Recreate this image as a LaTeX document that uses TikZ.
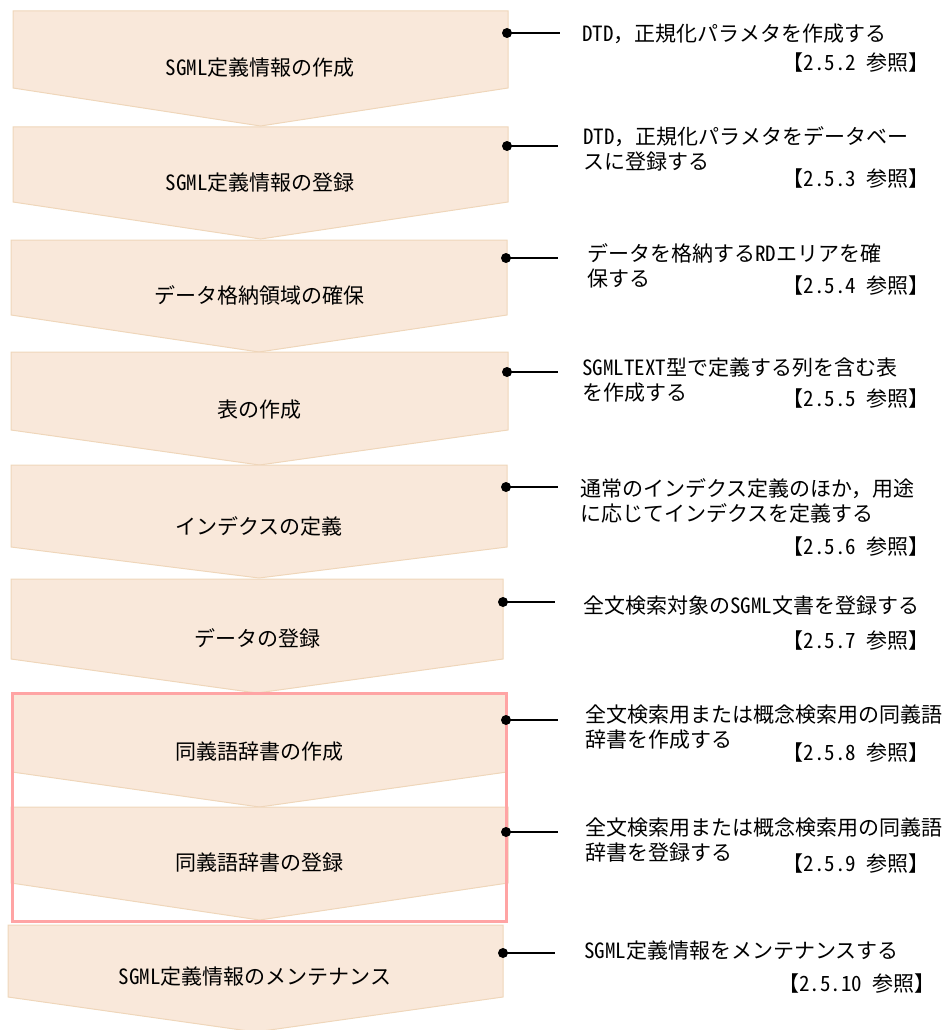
\documentclass[tikz,border=0pt]{standalone}
\usepackage{fontspec}
\setmainfont{Noto Sans CJK JP}
\newfontfamily\hwfont{Noto Sans CJK JP}[RawFeature=+hwid]
\newcommand\halfw[1]{{\hwfont #1}}
\definecolor{chfill}{HTML}{F9E8DA}
\definecolor{chline}{HTML}{EFD6BA}
\definecolor{hilite}{HTML}{FFA4A4}
\begin{document}
\begin{tikzpicture}[x=1pt,y=-1pt,
  every node/.style={font=\fontsize{21}{24.5}\selectfont, inner sep=0pt, text=black},
  chev/.style={fill=chfill, draw=chline, line width=1pt, line join=miter},
  lbl/.style={anchor=center},
  desc/.style={anchor=base west, align=left},
  refn/.style={anchor=base east},
  conn/.style={draw=black, line width=1.7pt},
  dotm/.style={fill=black},
  grp/.style={draw=hilite, line width=3pt}]
\useasboundingbox (0,0) rectangle (947,1030);

% chevrons
\draw[chev] (13,11) -- (508,11) -- (508,88) -- (260.5,126) -- (13,88) -- cycle;
\draw[chev] (13,127) -- (508,127) -- (508,202) -- (260.5,239) -- (13,202) -- cycle;
\draw[chev] (11,240) -- (507,240) -- (507,315) -- (259,352) -- (11,315) -- cycle;
\draw[chev] (11,352) -- (508,352) -- (508,430) -- (259.5,465) -- (11,430) -- cycle;
\draw[chev] (11,465) -- (507,465) -- (507,547) -- (259,578) -- (11,547) -- cycle;
\draw[chev] (11,579) -- (503,579) -- (503,659) -- (257,693) -- (11,659) -- cycle;
\draw[chev] (12,693) -- (507,693) -- (507,772) -- (259.5,807) -- (12,772) -- cycle;
\draw[chev] (11,807) -- (508,807) -- (508,883) -- (259.5,920) -- (11,883) -- cycle;
\draw[chev] (8,925) -- (503,925) -- (503,997) -- (255.5,1032) -- (8,997) -- cycle;

% highlight group
\draw[grp] (12.5,693.5) rectangle (506,921.5);

% labels in chevrons
\node[lbl] (s1) at (260,68) {\halfw{SGML}定義情報の作成};
\node[lbl] (s2) at (260,183) {\halfw{SGML}定義情報の登録};
\node[lbl] (s3) at (259,295) {データ格納領域の確保};
\node[lbl] (s4) at (259,410) {表の作成};
\node[lbl] (s5) at (259,526) {インデクスの定義};
\node[lbl] (s6) at (257,638) {データの登録};
\node[lbl] (s7) at (259,752) {同義語辞書の作成};
\node[lbl] (s8) at (259,863) {同義語辞書の登録};
\node[lbl] (s9) at (255,977) {\halfw{SGML}定義情報のメンテナンス};

% connector points
\coordinate (p1) at (507,33);  \coordinate (e1) at (560,33);
\coordinate (p2) at (507,146); \coordinate (e2) at (558,146);
\coordinate (p3) at (506,258); \coordinate (e3) at (558,258);
\coordinate (p4) at (507,372); \coordinate (e4) at (558,372);
\coordinate (p5) at (506,487); \coordinate (e5) at (558,487);
\coordinate (p6) at (503,602); \coordinate (e6) at (555,602);
\coordinate (p7) at (506,720); \coordinate (e7) at (558,720);
\coordinate (p8) at (506,832); \coordinate (e8) at (558,832);
\coordinate (p9) at (503,953); \coordinate (e9) at (555,953);
\foreach \i in {1,...,9} {
  \draw[conn] (p\i) -- (e\i);
  \fill[dotm] (p\i) circle (5);
}

% descriptions (base = baseline of last line)
\node[desc] (d1) at (582,42) {\halfw{DTD}，正規化パラメタを作成する};
\node[desc] (d2) at (583,169) {\halfw{DTD}，正規化パラメタをデータベー\\スに登録する};
\node[desc] (d3) at (587,286) {データを格納する\halfw{RD}エリアを確\\保する};
\node[desc] (d4) at (582,400) {\halfw{SGMLTEXT}型で定義する列を含む表\\を作成する};
\node[desc] (d5) at (580,521) {通常のインデクス定義のほか，用途\\に応じてインデクスを定義する};
\node[desc] (d6) at (583,613) {全文検索対象の\halfw{SGML}文書を登録する};
\node[desc] (d7) at (585,747) {全文検索用または概念検索用の同義語\\辞書を作成する};
\node[desc] (d8) at (585,860) {全文検索用または概念検索用の同義語\\辞書を登録する};
\node[desc] (d9) at (584,958) {\halfw{SGML}定義情報をメンテナンスする};

% references
\node[refn] (r1) at (930,71)  {【\halfw{2.5.2 }参照】};
\node[refn] (r2) at (930,186) {【\halfw{2.5.3 }参照】};
\node[refn] (r3) at (930,293) {【\halfw{2.5.4 }参照】};
\node[refn] (r4) at (930,406) {【\halfw{2.5.5 }参照】};
\node[refn] (r5) at (930,554) {【\halfw{2.5.6 }参照】};
\node[refn] (r6) at (930,648) {【\halfw{2.5.7 }参照】};
\node[refn] (r7) at (930,760) {【\halfw{2.5.8 }参照】};
\node[refn] (r8) at (930,871) {【\halfw{2.5.9 }参照】};
\node[refn] (r9) at (936,991) {【\halfw{2.5.10 }参照】};
\end{tikzpicture}
\end{document}
